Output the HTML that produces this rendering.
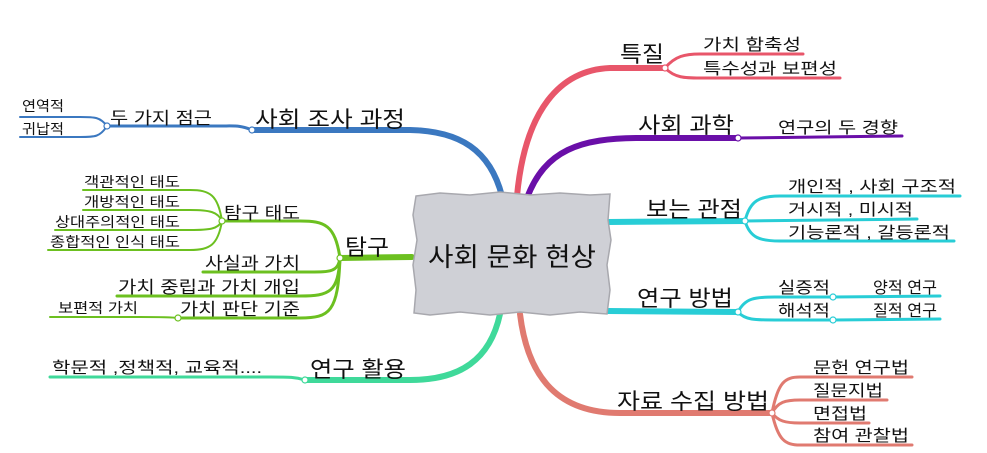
<!DOCTYPE html>
<html><head><meta charset="utf-8"><style>
html,body{margin:0;padding:0;background:#fff;width:987px;height:453px;overflow:hidden}
text{font-family:"Liberation Sans","Noto Sans CJK KR","NanumGothic",sans-serif;fill:#111}
.b{font-size:22px}.m{font-size:17px}.s{font-size:16px}.xs{font-size:14px}
</style></head><body>
<svg width="987" height="453" viewBox="0 0 987 453" xmlns="http://www.w3.org/2000/svg" fill="none" stroke-linecap="round">
<g stroke="#e8566a">
<path d="M517,196 C525,110 560,70 610,68 L665,68" stroke-width="6"/>
<path d="M665,68 C675,56 685,54 700,54 L803,54" stroke-width="3"/>
<path d="M665,68 C675,78 685,78 700,78 L840,78" stroke-width="3"/>
</g>
<g stroke="#6a0fa8">
<path d="M527,198 C545,150 580,138 640,138 L738,138" stroke-width="6"/>
<path d="M738,138 L902,136" stroke-width="3"/>
</g>
<g stroke="#28cdd6">
<path d="M608,222 L745,221" stroke-width="6"/>
<path d="M745,221 C750,200 760,196 780,196 L960,196" stroke-width="3"/>
<path d="M745,221 L917,219" stroke-width="3"/>
<path d="M745,221 C750,238 760,241 780,241 L954,241" stroke-width="3"/>
<path d="M608,311 L738,312" stroke-width="6"/>
<path d="M738,312 C745,298 755,297 775,297 L833,297 L940,296" stroke-width="3"/>
<path d="M738,312 C745,320 755,320 775,320 L833,320 L940,319" stroke-width="3"/>
</g>
<g stroke="#e07a70">
<path d="M520,314 C528,380 560,413 620,413 L772,413" stroke-width="6"/>
<path d="M772,413 C778,382 785,377 800,377 L912,377" stroke-width="3"/>
<path d="M772,413 C778,402 785,400 800,400 L887,400" stroke-width="3"/>
<path d="M772,413 C778,421 785,423 800,423 L869,423" stroke-width="3"/>
<path d="M772,413 C778,440 785,445 800,445 L912,445" stroke-width="3"/>
</g>
<g stroke="#3b78c0">
<path d="M502,196 C490,150 460,131 410,130 L252,130" stroke-width="6"/>
<path d="M252,130 C240,125 235,126 220,126 L107,126" stroke-width="3"/>
<path d="M107,126 C100,117 95,117 80,117 L20,117" stroke-width="2"/>
<path d="M107,126 C100,137 95,137 80,137 L20,137" stroke-width="2"/>
</g>
<g stroke="#6cc020">
<path d="M412,257 L340,258" stroke-width="6"/>
<path d="M340,258 C335,225 325,221 300,221 L222,221" stroke-width="3"/>
<path d="M340,258 C338,272 330,272 310,272 L203,272" stroke-width="3"/>
<path d="M340,258 C338,292 330,296 300,296 L117,296" stroke-width="3"/>
<path d="M340,258 C338,312 330,318 300,318 L178,318" stroke-width="3"/>
<path d="M178,318 C170,317 160,317 140,317 L50,317" stroke-width="2"/>
<path d="M222,221 C218,195 210,190 190,190 L83,190" stroke-width="2"/>
<path d="M222,221 C218,212 210,210 190,210 L83,210" stroke-width="2"/>
<path d="M222,221 C218,229 210,230 190,230 L55,230" stroke-width="2"/>
<path d="M222,221 C218,245 210,250 190,250 L48,250" stroke-width="2"/>
</g>
<g stroke="#3fd99a">
<path d="M500,314 C490,360 460,380 410,380 L305,380" stroke-width="6"/>
<path d="M305,380 C295,377 290,377 270,377 L50,377" stroke-width="3"/>
</g>
<g fill="#fff" stroke-width="1.2">
<circle cx="665" cy="68" r="3" stroke="#e8566a"/>
<circle cx="738" cy="138" r="3" stroke="#6a0fa8"/>
<circle cx="745" cy="221" r="3" stroke="#28cdd6"/>
<circle cx="738" cy="312" r="3" stroke="#28cdd6"/>
<circle cx="833" cy="297" r="3" stroke="#28cdd6"/>
<circle cx="833" cy="320" r="3" stroke="#28cdd6"/>
<circle cx="772" cy="413" r="3" stroke="#e07a70"/>
<circle cx="252" cy="130" r="3" stroke="#3b78c0"/>
<circle cx="107" cy="126" r="3" stroke="#3b78c0"/>
<circle cx="340" cy="258" r="3" stroke="#6cc020"/>
<circle cx="222" cy="221" r="3" stroke="#6cc020"/>
<circle cx="178" cy="318" r="3" stroke="#6cc020"/>
<circle cx="305" cy="380" r="3" stroke="#3fd99a"/>
</g>
<path d="M416,196 L440,193 L470,195 L500,192 L530,195 L560,193 L590,195 L610,194 L608,220 L611,240 L607,265 L610,290 L607,314 L580,312 L550,315 L520,312 L490,315 L460,312 L430,315 L414,313 L416,290 L413,265 L417,240 L413,215 Z" fill="#cfd0d6" stroke="#a8a8ae" stroke-width="1.5"/>
<g lengthAdjust="spacingAndGlyphs">
<text x="428" y="266" style="font-size:26px" textLength="168" lengthAdjust="spacingAndGlyphs">사회 문화 현상</text>
<text class="b" x="620" y="62" textLength="44" lengthAdjust="spacingAndGlyphs">특질</text>
<text class="s" x="703" y="50" textLength="98" lengthAdjust="spacingAndGlyphs">가치 함축성</text>
<text class="s" x="703" y="74" textLength="134" lengthAdjust="spacingAndGlyphs">특수성과 보편성</text>
<text class="b" x="638" y="133" textLength="96" lengthAdjust="spacingAndGlyphs">사회 과학</text>
<text class="s" x="778" y="133" textLength="120" lengthAdjust="spacingAndGlyphs">연구의 두 경향</text>
<text class="b" x="646" y="217" textLength="96" lengthAdjust="spacingAndGlyphs">보는 관점</text>
<text class="s" x="788" y="192" textLength="168" lengthAdjust="spacingAndGlyphs">개인적 , 사회 구조적</text>
<text class="s" x="788" y="215" textLength="125" lengthAdjust="spacingAndGlyphs">거시적 , 미시적</text>
<text class="s" x="788" y="238" textLength="162" lengthAdjust="spacingAndGlyphs">기능론적 , 갈등론적</text>
<text class="b" x="637" y="306" textLength="96" lengthAdjust="spacingAndGlyphs">연구 방법</text>
<text class="s" x="778" y="293" textLength="52" lengthAdjust="spacingAndGlyphs">실증적</text>
<text class="s" x="873" y="293" textLength="64" lengthAdjust="spacingAndGlyphs">양적 연구</text>
<text class="s" x="778" y="316" textLength="52" lengthAdjust="spacingAndGlyphs">해석적</text>
<text class="s" x="873" y="316" textLength="64" lengthAdjust="spacingAndGlyphs">질적 연구</text>
<text class="b" x="617" y="409" textLength="152" lengthAdjust="spacingAndGlyphs">자료 수집 방법</text>
<text class="s" x="813" y="373" textLength="96" lengthAdjust="spacingAndGlyphs">문헌 연구법</text>
<text class="s" x="813" y="396" textLength="70" lengthAdjust="spacingAndGlyphs">질문지법</text>
<text class="s" x="813" y="419" textLength="54" lengthAdjust="spacingAndGlyphs">면접법</text>
<text class="s" x="813" y="441" textLength="96" lengthAdjust="spacingAndGlyphs">참여 관찰법</text>
<text class="b" x="255" y="127" textLength="150" lengthAdjust="spacingAndGlyphs">사회 조사 과정</text>
<text class="m" x="110" y="124" textLength="102" lengthAdjust="spacingAndGlyphs">두 가지 점근</text>
<text class="xs" x="22" y="111" textLength="42" lengthAdjust="spacingAndGlyphs">연역적</text>
<text class="xs" x="22" y="134" textLength="42" lengthAdjust="spacingAndGlyphs">귀납적</text>
<text class="b" x="345" y="255" textLength="44" lengthAdjust="spacingAndGlyphs">탐구</text>
<text class="m" x="224" y="219" textLength="76" lengthAdjust="spacingAndGlyphs">탐구 태도</text>
<text class="xs" x="84" y="187" textLength="96" lengthAdjust="spacingAndGlyphs">객관적인 태도</text>
<text class="xs" x="84" y="207" textLength="96" lengthAdjust="spacingAndGlyphs">개방적인 태도</text>
<text class="xs" x="55" y="227" textLength="125" lengthAdjust="spacingAndGlyphs">상대주의적인 태도</text>
<text class="xs" x="50" y="247" textLength="130" lengthAdjust="spacingAndGlyphs">종합적인 인식 태도</text>
<text class="m" x="205" y="269" textLength="95" lengthAdjust="spacingAndGlyphs">사실과 가치</text>
<text class="m" x="118" y="293" textLength="182" lengthAdjust="spacingAndGlyphs">가치 중립과 가치 개입</text>
<text class="m" x="180" y="315" textLength="120" lengthAdjust="spacingAndGlyphs">가치 판단 기준</text>
<text class="xs" x="58" y="313" textLength="80" lengthAdjust="spacingAndGlyphs">보편적 가치</text>
<text class="b" x="310" y="377" textLength="96" lengthAdjust="spacingAndGlyphs">연구 활용</text>
<text class="s" x="52" y="373" textLength="210" lengthAdjust="spacingAndGlyphs">학문적 ,정책적, 교육적....</text>
</g>
</svg>
</body></html>
